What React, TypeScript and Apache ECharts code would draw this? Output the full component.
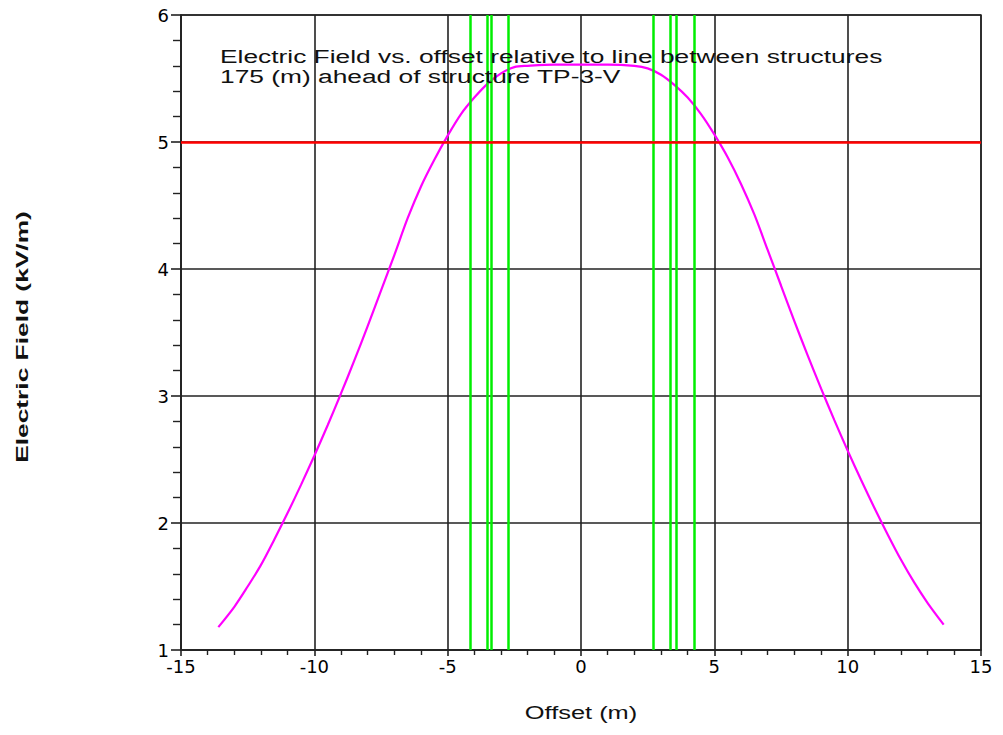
import React, { useEffect, useRef } from "react";
import * as echarts from "echarts";

const offsets = [-13.6, -13, -12.5, -12, -11.5, -11, -10.5, -10, -9.5, -9, -8.5, -8, -7.5, -7, -6.5, -6, -5.5, -5, -4.5, -4, -3.5, -3, -2.5, -2, -1, 0, 1, 2, 2.5, 3, 3.5, 4, 4.5, 5, 5.5, 6, 6.5, 7, 7.5, 8, 8.5, 9, 9.5, 10, 10.5, 11, 11.5, 12, 12.5, 13, 13.6];
const fields = [1.18, 1.34, 1.50, 1.67, 1.87, 2.08, 2.30, 2.53, 2.77, 3.02, 3.28, 3.55, 3.83, 4.11, 4.40, 4.65, 4.86, 5.05, 5.22, 5.35, 5.46, 5.54, 5.59, 5.60, 5.61, 5.61, 5.61, 5.60, 5.58, 5.53, 5.45, 5.35, 5.22, 5.06, 4.88, 4.67, 4.43, 4.15, 3.87, 3.59, 3.32, 3.06, 2.81, 2.57, 2.34, 2.12, 1.91, 1.71, 1.53, 1.37, 1.20];
const conductorOffsets = [-4.16, -3.52, -3.37, -2.72, 2.70, 3.36, 3.56, 4.23];
const limitValue = 5;
const titleLines = [
  "Electric Field vs. offset relative to line between structures",
  "175 (m) ahead of structure TP-3-V",
];
const xName = "Offset (m)";
const yName = "Electric Field (kV/m)";

export default function App() {
  const ref = useRef<HTMLDivElement>(null);
  useEffect(() => {
    if (!ref.current) return;
    const chart = echarts.init(ref.current, undefined, { renderer: "svg" });
    const gridColor = "#222";
    const tickFont = { fontFamily: "DejaVu Sans", fontSize: 18, color: "#000" };
    chart.setOption({
      animation: false,
      backgroundColor: "#fff",
      grid: {
        left: 181,
        right: 22,
        top: 15,
        bottom: 85,
        show: true,
        borderColor: "#333",
        borderWidth: 1.5,
      },
      xAxis: {
        type: "value",
        min: -15,
        max: 15,
        interval: 5,
        axisLine: { show: true, onZero: false, lineStyle: { color: gridColor, width: 1.6 } },
        axisTick: { show: true, length: 6, lineStyle: { color: gridColor, width: 1.6 } },
        minorTick: { show: true, splitNumber: 5, length: 5, lineStyle: { color: gridColor, width: 1.4 } },
        splitLine: { show: true, lineStyle: { color: gridColor, width: 1.6 } },
        axisLabel: { ...tickFont, margin: 7 },
      },
      yAxis: {
        type: "value",
        min: 1,
        max: 6,
        interval: 1,
        axisLine: { show: true, onZero: false, lineStyle: { color: gridColor, width: 1.6 } },
        axisTick: { show: true, length: 10, lineStyle: { color: gridColor, width: 1.6 } },
        minorTick: { show: true, splitNumber: 5, length: 8, lineStyle: { color: gridColor, width: 1.4 } },
        splitLine: { show: true, lineStyle: { color: gridColor, width: 1.6 } },
        axisLabel: { ...tickFont, margin: 12 },
      },
      series: [
        {
          type: "line",
          data: [],
          z: 1,
          silent: true,
          markLine: {
            silent: true,
            symbol: "none",
            label: { show: false },
            lineStyle: { color: "#00ee00", width: 2.5, type: "solid" },
            data: conductorOffsets.map((x) => ({ xAxis: x })),
          },
        },
        {
          type: "line",
          data: [],
          z: 2,
          silent: true,
          markLine: {
            silent: true,
            symbol: "none",
            label: { show: false },
            lineStyle: { color: "#ff0000", width: 2.5, type: "solid" },
            data: [{ yAxis: limitValue }],
          },
        },
        {
          type: "line",
          z: 3,
          data: offsets.map((x, i) => [x, fields[i]]),
          showSymbol: false,
          symbol: "none",
          smooth: 0.3,
          lineStyle: { color: "#ff00ff", width: 2.2 },
        },
      ],
      graphic: [
        {
          type: "text",
          x: 220,
          y: 56,
          scaleX: 1.386,
          z: 10,
          style: {
            text: titleLines[0],
            fontFamily: "Liberation Sans",
            fontSize: 19,
            fill: "#111",
            verticalAlign: "middle",
            align: "left",
          },
        },
        {
          type: "text",
          x: 220,
          y: 76,
          scaleX: 1.386,
          z: 10,
          style: {
            text: titleLines[1],
            fontFamily: "Liberation Sans",
            fontSize: 19,
            fill: "#111",
            verticalAlign: "middle",
            align: "left",
          },
        },
        {
          type: "text",
          x: 581,
          y: 713,
          scaleX: 1.374,
          style: {
            text: xName,
            fontFamily: "Liberation Sans",
            fontSize: 18.5,
            fill: "#111",
            verticalAlign: "middle",
            align: "center",
          },
        },
        {
          type: "text",
          x: 22,
          y: 337,
          rotation: Math.PI / 2,
          scaleX: 1.55,
          style: {
            text: yName,
            fontFamily: "Liberation Sans",
            fontWeight: "bold",
            fontSize: 17,
            fill: "#111",
            verticalAlign: "middle",
            align: "center",
          },
        },
      ],
    });
    return () => chart.dispose();
  }, []);
  return <div ref={ref} style={{ width: 1003, height: 735, margin: -8 }} />;
}
